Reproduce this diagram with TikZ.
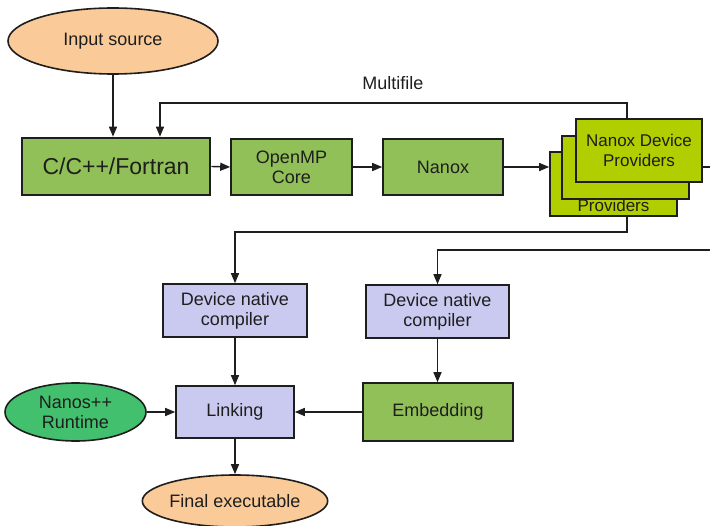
\documentclass[tikz,border=0pt]{standalone}
\usepackage{fontspec}
\setmainfont{Liberation Sans}
\usetikzlibrary{shapes.geometric,arrows.meta}
\definecolor{peach}{RGB}{250,202,152}
\definecolor{leaf}{RGB}{146,192,88}
\definecolor{lime}{RGB}{176,206,0}
\definecolor{lav}{RGB}{202,202,240}
\definecolor{mint}{RGB}{66,192,110}
\definecolor{ink}{RGB}{30,30,30}
\tikzset{
  base/.style={draw=ink, line width=1.6pt, inner sep=0pt, align=center, text=ink,
    font=\fontsize{18}{20}\selectfont},
  oval/.style={base, ellipse},
  box/.style={base, rectangle},
  arr/.style={draw=ink, line width=1.4pt, -{Triangle[length=10pt,width=8pt]}},
  ln/.style={draw=ink, line width=1.4pt},
}
\begin{document}
\begin{tikzpicture}[x=1pt,y=-1pt]
\useasboundingbox (0,0) rectangle (710,526);
\node[oval, fill=peach, minimum width=210, minimum height=66] (in) at (113,41) {Input source};
\node[box, fill=leaf, line width=2.6pt, minimum width=188, minimum height=57, font=\fontsize{23}{25}\selectfont] (cc) at (116,166.5) {C/C++/Fortran};
\node[box, fill=leaf, minimum width=121, minimum height=56] (omp) at (291.5,167) {OpenMP\\Core};
\node[box, fill=leaf, minimum width=120, minimum height=56] (nanox) at (443,167) {Nanox};
\node[box, fill=lime, minimum width=127, minimum height=64] (p3) at (613.5,184) {};
\node[text=ink, font=\fontsize{17}{20}\selectfont, inner sep=0pt] (p3t) at (613.5,205) {Providers};
\node[box, fill=lime, minimum width=127, minimum height=63] (p2) at (625.5,167.5) {};
\node[box, fill=lime, minimum width=126, minimum height=63, font=\fontsize{17}{20}\selectfont] (p1) at (639,150.5) {Nanox Device\\Providers};
\node[box, fill=lav, minimum width=144, minimum height=53] (dnc1) at (235,310.5) {Device native\\compiler};
\node[box, fill=lav, minimum width=143, minimum height=53] (dnc2) at (437.5,311.5) {Device native\\compiler};
\node[box, fill=lav, minimum width=118, minimum height=52] (link) at (235,412) {Linking};
\node[box, fill=leaf, minimum width=150, minimum height=58] (emb) at (438,412) {Embedding};
\node[oval, fill=mint, minimum width=141, minimum height=58] (nanos) at (75.5,412) {Nanos++\\Runtime};
\node[oval, fill=peach, minimum width=156, minimum height=52] (final) at (235,501) {Final executable};
\node[font=\fontsize{18}{20}\selectfont, text=ink] (mflabel) at (393,83) {Multifile};
\coordinate (mfR) at (627,103);
\coordinate (mfL) at (160,103);
\coordinate (d1) at (627,232);
\coordinate (inR) at (710,250);
\coordinate (outR) at (710,167);
\draw[arr] (in.south) -- (in.south |- cc.north);
\draw[arr] (p1.north -| mfR) -- (mfR) -- (mfL) -- (mfL |- cc.north);
\draw[arr] (cc.east) -- (omp.west);
\draw[arr] (omp.east) -- (nanox.west);
\draw[arr] (nanox.east) -- (nanox.east -| p3.west);
\draw[ln] (outR -| p1.east) -- (outR);
\draw[arr] (p3.south -| d1) -- (d1) -| (dnc1.north);
\draw[arr] (inR) -| (dnc2.north);
\draw[arr] (dnc1.south) -- (link.north);
\draw[arr] (dnc2.south) -- (dnc2.south |- emb.north);
\draw[arr] (emb.west) -- (link.east);
\draw[arr] (nanos.east) -- (link.west);
\draw[arr] (link.south) -- (final.north);
\end{tikzpicture}
\end{document}
